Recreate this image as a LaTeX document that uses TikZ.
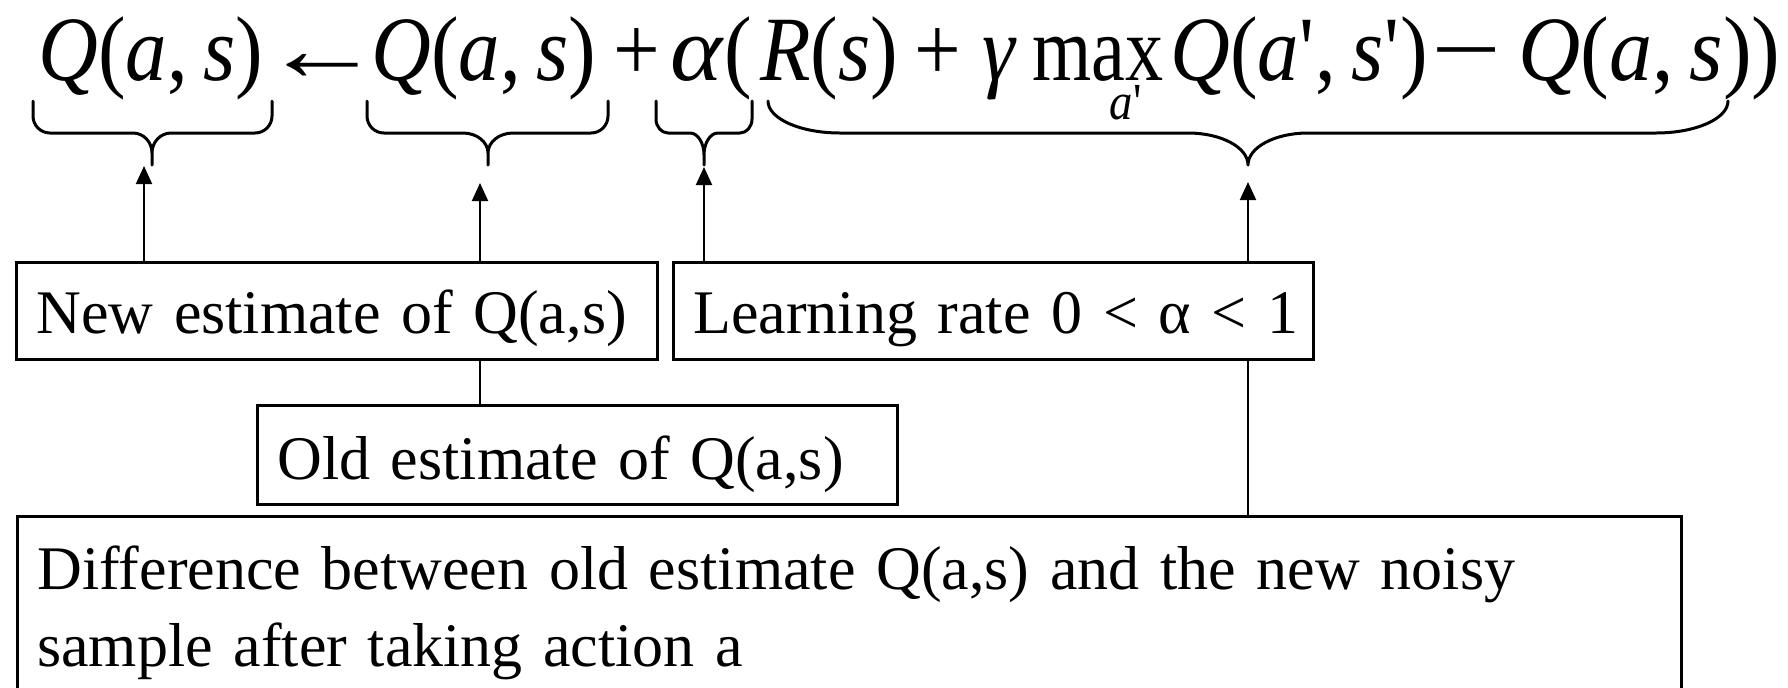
\documentclass[tikz,border=0pt]{standalone}
\usepackage{fontspec}
\setmainfont{Liberation Serif}
\newfontfamily\eqfont[FakeStretch=0.9]{Liberation Serif}
\usepackage{graphicx}
\usetikzlibrary{arrows.meta,backgrounds}
\newcommand\mi[1]{\textit{#1}}
\newcommand\maxlim{\setbox0\hbox{\scalebox{0.92}[1]{max}}\rlap{\copy0}\hbox to\wd0{\hss\hspace{28pt}\raisebox{-19.5pt}{\fontsize{26}{30}\selectfont\mi{a}\textquotesingle}\hss}}
% brace: #1 x1, #2 x2, #3 xm, #4 end extent, #5 end straight, #6 tip half width, #7 tip straight
\newcommand\ubr[7]{%
  \draw[bracestroke] (#1,101) -- (#1,{101+#5})
    .. controls (#1,{101+#5+0.552*(32-#5)}) and ({#1+0.448*#4},133) .. ({#1+#4},133)
    -- ({#3-#6},133)
    .. controls ({#3-0.448*#6},133) and (#3,{133+0.448*(32-#7)}) .. (#3,{165-#7})
    -- (#3,165) -- (#3,{165-#7})
    .. controls (#3,{133+0.448*(32-#7)}) and ({#3+0.448*#6},133) .. ({#3+#6},133)
    -- ({#2-#4},133)
    .. controls ({#2-0.448*#4},133) and (#2,{101+#5+0.552*(32-#5)}) .. (#2,{101+#5})
    -- (#2,101);}
\begin{document}
\begin{tikzpicture}[x=0.5pt,y=-0.5pt,
  eqp/.style={anchor=base west, inner sep=0pt, font=\eqfont\fontsize{46}{52}\selectfont},
  eqc/.style={eqp, anchor=base},
  box/.style={draw, line width=1.3pt, fill=white, inner xsep=10pt, inner ysep=0pt,
    text height=35.5pt, text depth=13pt, align=left,
    font=\fontsize{31}{38.5}\selectfont},
  bigbox/.style={draw, line width=1.3pt, fill=white, inner xsep=10pt, inner ysep=0pt,
    align=left, font=\fontsize{31}{38.5}\selectfont},
  conn/.style={line width=1pt, -{Triangle[length=9pt,width=8pt]}},
  bracestroke/.style={line width=1.5pt, line join=round, line cap=round}]
\useasboundingbox (0,0) rectangle (1788,687);

% equation
\node[eqp] (q1) at (38,80) {\mi{Q}(\mi{a},\,\mi{s})};
\node[eqc] (arr) at (323,80) {\scalebox{1.45}[1]{←}};
\node[eqp] (q2) at (371,80) {\mi{Q}(\mi{a},\,\mi{s})};
\node[eqc] (plus1) at (637,80) {+};
\node[eqp] (al) at (670,80) {\scalebox{1.2}[1]{\mi{α}}(};
\node[eqp] (rs) at (760,80) {\mi{R}(\mi{s})};
\node[eqc] (plus2) at (938,80) {+};
\node[eqc] (gam) at (1000,80) {\mi{γ}};
\node[eqc] (mx) at (1098,80) {\maxlim};
\node[eqp] (q3) at (1170,80) {\mi{Q}(\mi{a}\textquotesingle,\,\mi{s}\textquotesingle)};
\node[eqc] (minus) at (1467,80) {\scalebox{1.5}[1]{−}};
\node[eqp, anchor=base east] (q4) at (1781,80) {\scalebox{1.04}[1]{\mi{Q}(\mi{a},\,\mi{s}))}};

% braces
\ubr{33}{272}{152}{17}{15}{19}{12}
\ubr{367}{608}{488}{17}{15}{25}{12}
\ubr{656}{752}{704}{12}{18}{14}{10}
\ubr{768}{1728}{1248}{72}{0}{60}{0}

% arrow ends
\coordinate (c1) at (144,166);
\coordinate (c2) at (480,183);
\coordinate (c3) at (704,167);
\coordinate (c4) at (1248,182);

% boxes
\node[box, text width=300.5pt, anchor=north west] (newest) at (15,261) {\mbox{New estimate of Q(a,s)}};
\node[box, text width=300pt, anchor=north west] (lr) at (672,261) {\mbox{Learning rate 0 < α < 1}};
\node[box, text width=300pt, anchor=north west, text height=37pt, text depth=12.5pt] (oldest) at (256,404) {\mbox{Old estimate of Q(a,s)}};
\node[bigbox, text width=812pt, anchor=north west] (diff) at (16,515)
  {\rule{0pt}{36.5pt}Difference between old estimate Q(a,s) and the new noisy\\sample after taking action a\rule[-25pt]{0pt}{0pt}};

% connectors
\begin{scope}[on background layer]
\draw[conn] (newest.north -| c1) -- (c1);
\draw[conn] (oldest.north -| c2) -- (c2);
\draw[conn] (lr.north -| c3) -- (c3);
\draw[conn] (diff.north -| c4) -- (c4);
\end{scope}
\end{tikzpicture}
\end{document}
